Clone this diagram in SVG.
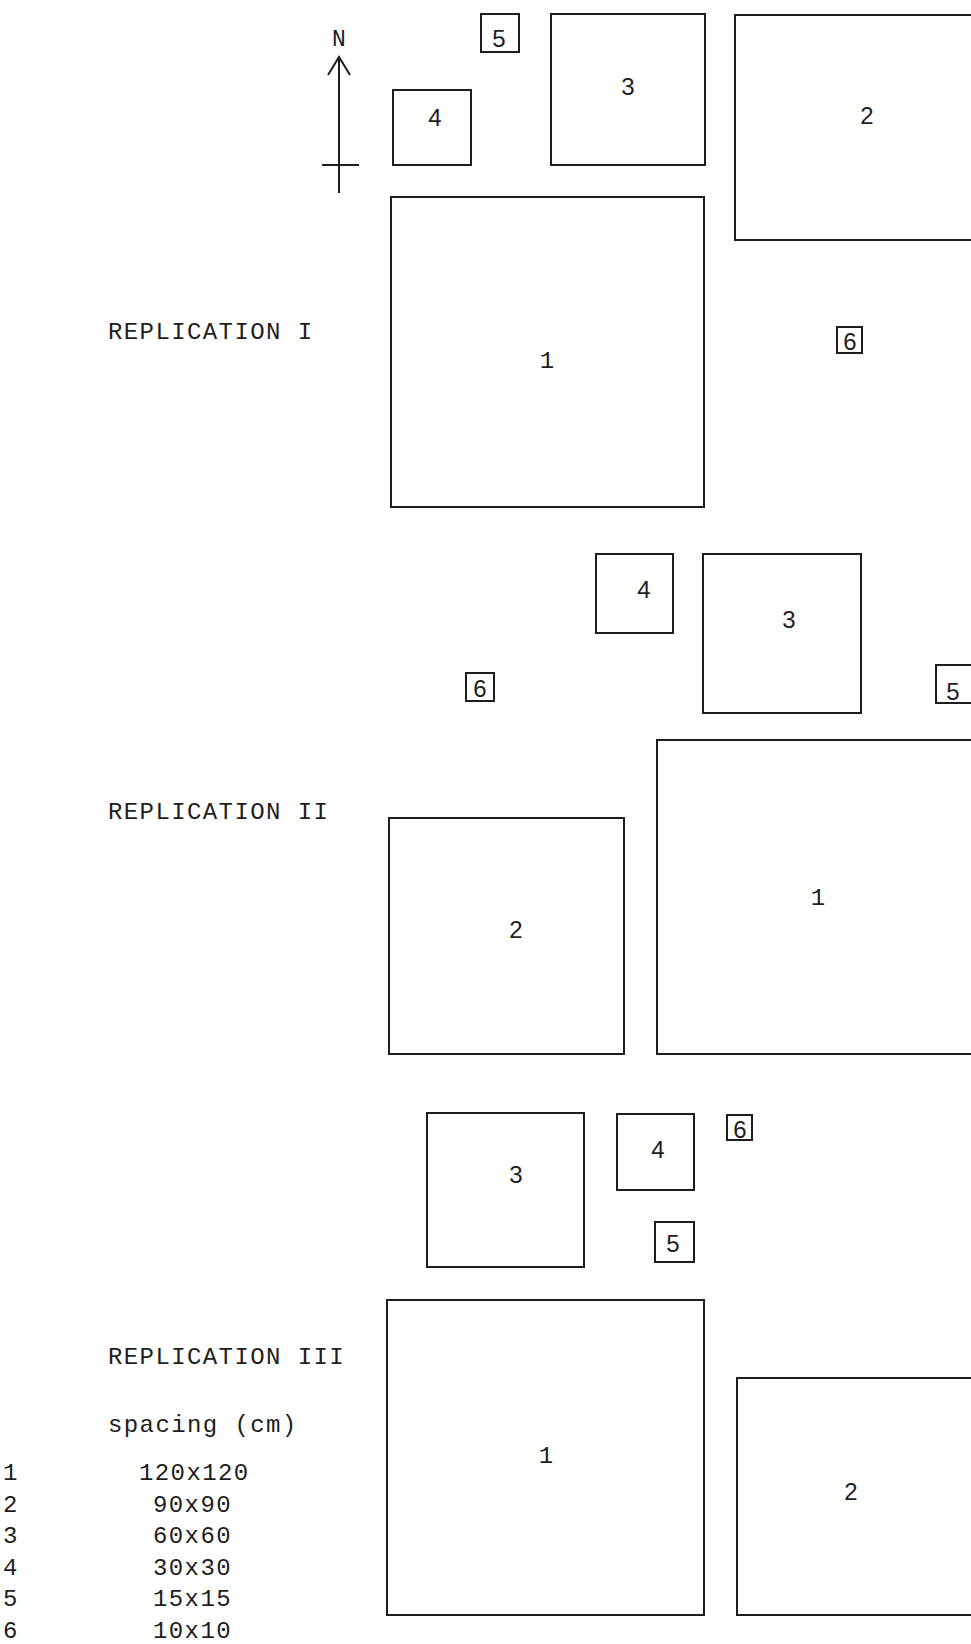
<svg xmlns="http://www.w3.org/2000/svg" width="971" height="1644" viewBox="0 0 971 1644">
<style>
.plot{fill:none;stroke:#1e1e1e;stroke-width:2}
.lbl{font-family:"Liberation Sans",Arial,sans-serif;font-size:24px;fill:#1e1e1e;text-anchor:middle}
.one{font-family:"Liberation Mono","Courier New",monospace;font-size:24px;fill:#1e1e1e;text-anchor:middle}
.tw{font-family:"Liberation Mono","Courier New",monospace;font-size:24px;letter-spacing:1.4px;fill:#1e1e1e}
</style>
<rect width="971" height="1644" fill="#fff"/>
<g id="north">
<text x="339" y="46" style="font-family:'Liberation Mono','Courier New',monospace;font-size:23px;fill:#1e1e1e;text-anchor:middle">N</text>
<line class="plot" x1="339" y1="57" x2="339" y2="193"/>
<polyline class="plot" points="328,75 339,57 350,75"/>
<line class="plot" x1="322" y1="165" x2="359" y2="165"/>
</g>
<g id="rep1">
<text class="tw" x="108" y="339">REPLICATION I</text>
<g id="r1p5"><rect class="plot" x="481" y="14" width="38" height="38"/><text class="lbl" x="499" y="47">5</text></g>
<g id="r1p4"><rect class="plot" x="393" y="90" width="78" height="75"/><text class="lbl" x="435" y="126">4</text></g>
<g id="r1p3"><rect class="plot" x="551" y="14" width="154" height="151"/><text class="lbl" x="628" y="95">3</text></g>
<g id="r1p2"><rect class="plot" x="735" y="15" width="250" height="225"/><text class="lbl" x="867" y="124">2</text></g>
<g id="r1p1"><rect class="plot" x="391" y="197" width="313" height="310"/><text class="one" x="547" y="368">1</text></g>
<g id="r1p6"><rect class="plot" x="837" y="327" width="25" height="26"/><text class="lbl" x="850" y="350">6</text></g>
</g>
<g id="rep2">
<text class="tw" x="108" y="819">REPLICATION II</text>
<g id="r2p4"><rect class="plot" x="596" y="554" width="77" height="79"/><text class="lbl" x="644" y="598">4</text></g>
<g id="r2p3"><rect class="plot" x="703" y="554" width="158" height="159"/><text class="lbl" x="789" y="628">3</text></g>
<g id="r2p6"><rect class="plot" x="466" y="673" width="28" height="28"/><text class="lbl" x="480" y="697">6</text></g>
<g id="r2p5"><rect class="plot" x="936" y="665" width="40" height="38"/><text class="lbl" x="953" y="700">5</text></g>
<g id="r2p1"><rect class="plot" x="657" y="740" width="330" height="314"/><text class="one" x="818" y="905">1</text></g>
<g id="r2p2"><rect class="plot" x="389" y="818" width="235" height="236"/><text class="lbl" x="516" y="938">2</text></g>
</g>
<g id="rep3">
<text class="tw" x="108" y="1364">REPLICATION III</text>
<g id="r3p3"><rect class="plot" x="427" y="1113" width="157" height="154"/><text class="lbl" x="516" y="1183">3</text></g>
<g id="r3p4"><rect class="plot" x="617" y="1114" width="77" height="76"/><text class="lbl" x="658" y="1158">4</text></g>
<g id="r3p5"><rect class="plot" x="655" y="1222" width="39" height="40"/><text class="lbl" x="673" y="1252">5</text></g>
<g id="r3p6"><rect class="plot" x="727" y="1115" width="25" height="25"/><text class="lbl" x="740" y="1138">6</text></g>
<g id="r3p1"><rect class="plot" x="387" y="1300" width="317" height="315"/><text class="one" x="546" y="1463">1</text></g>
<g id="r3p2"><rect class="plot" x="737" y="1378" width="250" height="237"/><text class="lbl" x="851" y="1500">2</text></g>
</g>
<g id="legend">
<text class="tw" x="108" y="1432">spacing (cm)</text>
<text class="tw" x="3" y="1480">1</text><text class="tw" x="139" y="1480">120x120</text>
<text class="tw" x="3" y="1512">2</text><text class="tw" x="153" y="1512">90x90</text>
<text class="tw" x="3" y="1543">3</text><text class="tw" x="153" y="1543">60x60</text>
<text class="tw" x="3" y="1575">4</text><text class="tw" x="153" y="1575">30x30</text>
<text class="tw" x="3" y="1606">5</text><text class="tw" x="153" y="1606">15x15</text>
<text class="tw" x="3" y="1638">6</text><text class="tw" x="153" y="1638">10x10</text>
</g>
</svg>
